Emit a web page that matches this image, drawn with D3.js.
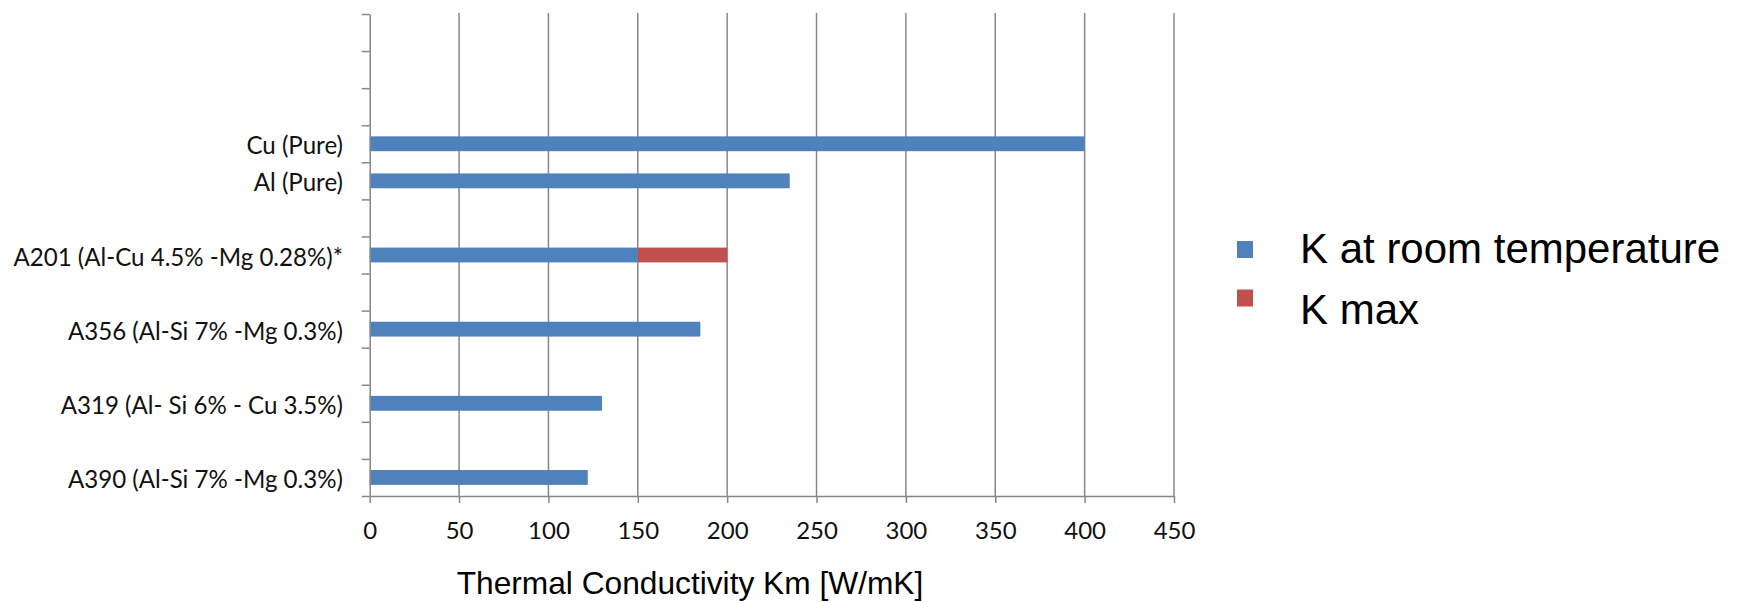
<!DOCTYPE html>
<html>
<head>
<meta charset="utf-8">
<script src="https://cdn.jsdelivr.net/npm/d3@7"></script>
<style>
  html, body { margin: 0; padding: 0; background: #ffffff; }
  svg { display: block; }
</style>
</head>
<body>
<svg id="chart" width="1742" height="602"></svg>
<script>
// Category rows, top to bottom (blank rows are empty category slots)
const categories = [
  "", "", "", "Cu (Pure)", "Al (Pure)", "",
  "A201 (Al-Cu 4.5% -Mg 0.28%)*", "",
  "A356 (Al-Si 7% -Mg 0.3%)", "",
  "A319 (Al- Si 6% - Cu 3.5%)", "",
  "A390 (Al-Si 7% -Mg 0.3%)"
];
// Thermal conductivity at room temperature [W/mK]
const kRoom = [null, null, null, 400, 235, null, 150, null, 185, null, 130, null, 122];
// Maximum thermal conductivity [W/mK]
const kMax = [null, null, null, null, null, null, 200, null, null, null, null, null, null];
const xTicks = [0, 50, 100, 150, 200, 250, 300, 350, 400, 450];
const seriesNames = ["K at room temperature", "K max"];
const seriesColors = ["#4f81bd", "#c0504d"];
const xTitle = "Thermal Conductivity Km [W/mK]";

(function drawChart() {
  const svg = d3.select("#chart");
  const plotLeft = 369.7, plotRight = 1174, plotTop = 14, plotBottom = 496;
  const gridColor = "#878787";
  const catFont = "Lato, 'Open Sans', sans-serif";

  const x = d3.scaleLinear().domain([0, 450]).range([plotLeft, plotRight]);
  const y = d3.scaleBand().domain(d3.range(categories.length)).range([plotTop, plotBottom]).paddingInner(0).paddingOuter(0);
  const yEdge = d3.scaleLinear().domain([0, categories.length]).range([plotTop, plotBottom]);
  const barH = y.bandwidth() / 2.5;

  // vertical gridlines
  svg.append("g")
    .selectAll("line")
    .data(xTicks.filter(d => d > 0))
    .join("line")
    .attr("x1", d => x(d)).attr("x2", d => x(d))
    .attr("y1", plotTop - 1).attr("y2", plotBottom)
    .attr("stroke", gridColor).attr("stroke-width", 1.5);

  // bars: room temperature
  svg.append("g")
    .selectAll("rect")
    .data(kRoom.map((v, i) => ({ v, i })).filter(d => d.v != null))
    .join("rect")
    .attr("x", x(0))
    .attr("y", d => y(d.i) + y.bandwidth() / 2 - barH / 2)
    .attr("width", d => x(d.v) - x(0))
    .attr("height", barH)
    .attr("fill", seriesColors[0]);

  // bars: max segment stacked after the room temperature value
  svg.append("g")
    .selectAll("rect")
    .data(kMax.map((v, i) => ({ v, i, base: kRoom[i] || 0 })).filter(d => d.v != null))
    .join("rect")
    .attr("x", d => x(d.base))
    .attr("y", d => y(d.i) + y.bandwidth() / 2 - barH / 2)
    .attr("width", d => x(d.v) - x(d.base))
    .attr("height", barH)
    .attr("fill", seriesColors[1]);

  // x axis
  const xAxis = svg.append("g")
    .attr("transform", `translate(0,${plotBottom})`)
    .call(d3.axisBottom(x).tickValues(xTicks).tickSize(7).tickPadding(19).tickSizeOuter(0));
  xAxis.select(".domain").attr("stroke", gridColor).attr("stroke-width", 1.5);
  xAxis.selectAll(".tick line").attr("stroke", gridColor).attr("stroke-width", 1.5);
  xAxis.selectAll(".tick text")
    .attr("font-family", catFont).attr("font-size", 24).attr("fill", "#111")
    .attr("dy", "0.71em");

  // y axis: ticks at category boundaries
  const yAxis = svg.append("g")
    .attr("transform", `translate(${plotLeft},0)`)
    .call(d3.axisLeft(yEdge).tickValues(d3.range(categories.length + 1)).tickSize(8).tickFormat("").tickSizeOuter(0));
  yAxis.select(".domain").attr("stroke", gridColor).attr("stroke-width", 1.5);
  yAxis.selectAll(".tick line").attr("stroke", gridColor).attr("stroke-width", 1.5);

  // category labels
  svg.append("g")
    .selectAll("text")
    .data(categories.map((c, i) => ({ c, i })).filter(d => d.c !== ""))
    .join("text")
    .attr("x", 343)
    .attr("y", d => y(d.i) + y.bandwidth() / 2 + 1)
    .attr("text-anchor", "end")
    .attr("dominant-baseline", "central")
    .attr("font-family", catFont).attr("font-size", 24.1).attr("fill", "#111")
    .text(d => d.c);

  // x axis title
  svg.append("text")
    .attr("x", 690).attr("y", 594)
    .attr("text-anchor", "middle")
    .attr("font-family", "'Liberation Sans', Arial, sans-serif")
    .attr("font-size", 31.7).attr("fill", "#000")
    .text(xTitle);

  // legend
  const legend = svg.append("g");
  const legendRows = [
    { name: seriesNames[0], color: seriesColors[0], sq: 241, base: 263 },
    { name: seriesNames[1], color: seriesColors[1], sq: 289.5, base: 324 }
  ];
  legend.selectAll("rect")
    .data(legendRows)
    .join("rect")
    .attr("x", 1237).attr("y", d => d.sq)
    .attr("width", 16).attr("height", 17)
    .attr("fill", d => d.color);
  legend.selectAll("text")
    .data(legendRows)
    .join("text")
    .attr("x", 1300).attr("y", d => d.base)
    .attr("font-family", "'Liberation Sans', Arial, sans-serif")
    .attr("font-size", 42).attr("fill", "#000")
    .text(d => d.name);
})();
</script>
</body>
</html>
